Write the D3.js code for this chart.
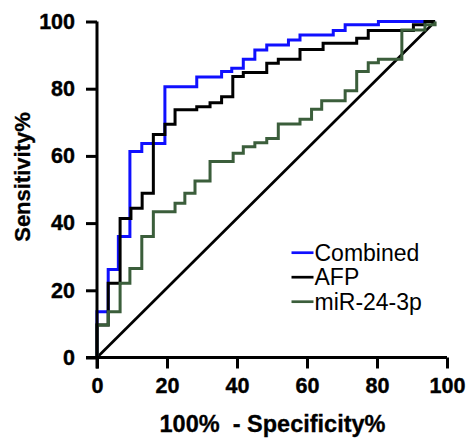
<!DOCTYPE html>
<html>
<head>
<meta charset="utf-8">
<script src="https://cdn.jsdelivr.net/npm/d3@7"></script>
<style>
  body { margin: 0; background: #fff; }
  svg text { font-family: "Liberation Sans", Arial, sans-serif; }
</style>
</head>
<body>
<div id="chart"></div>
<script>
// ROC step points: [100% - specificity, sensitivity]
const combined = [[0,0],[0,13.6],[3.2,26.2],[6.1,36],[9.4,61.3],[12.8,63.7],[19.4,80.6],[28.5,83.5],
  [35.6,85.1],[38.5,86.1],[41.8,88.8],[45.1,91.5],[48.5,93],[54.7,94.5],[58,96],[67.5,97.3],
  [70.9,99],[80.4,100],[96.6,100]];
const afp = [[0,0],[0,9.7],[3.2,22.1],[6.6,41.4],[9.7,44.4],[12.9,48.9],[16.1,66.4],[19.4,69.4],
  [22.3,73.7],[28.5,74.6],[32.3,75.8],[35.6,77.6],[38.8,83.6],[41.8,84.8],[48.5,87.6],[51.8,88.8],
  [58,91.7],[64.6,93.5],[74.2,95],[77.5,97.3],[90.4,99],[93.7,100],[96.6,100]];
const mir = [[0,0],[0,9.7],[3.2,13.6],[6.6,22.1],[9.4,26.5],[12.8,36],[16.1,43.4],[22.3,45.9],
  [25.1,48.9],[28,52.5],[32.3,58.3],[38.9,60.8],[41.8,62.7],[45.1,63.9],[48.5,65.2],[51.8,69.5],
  [58,70.9],[61.3,73.9],[64.2,76.4],[70.9,79.4],[74.2,85.1],[77.5,87.7],[80.4,88.8],[87.1,97.5],
  [93.7,99],[96.6,100]];
const reference = [[0,0],[96.6,100]];

const seriesNames = ["Combined", "AFP", "miR-24-3p"];
const seriesColors = ["#1010ff", "#000000", "#3b5e3b"];
const xTicks = [0, 20, 40, 60, 80, 100];
const yTicks = [0, 20, 40, 60, 80, 100];

const width = 468, height = 438;
const svg = d3.select("#chart").append("svg")
  .attr("width", width)
  .attr("height", height);

const x = d3.scaleLinear().domain([0, 100]).range([97, 447]);
const y = d3.scaleLinear().domain([0, 100]).range([357.5, 21.5]);

const line = d3.line()
  .x(d => x(d[0]))
  .y(d => y(d[1]))
  .curve(d3.curveStepAfter);

// diagonal
svg.append("path")
  .datum(reference)
  .attr("d", d3.line().x(d => x(d[0])).y(d => y(d[1])))
  .attr("fill", "none")
  .attr("stroke", "#000")
  .attr("stroke-width", 2.7);

[combined, afp, mir].forEach(function(s, i) {
  svg.append("path")
    .datum(s)
    .attr("d", line)
    .attr("fill", "none")
    .attr("stroke", seriesColors[i])
    .attr("stroke-width", 3);
});

// axes
const xAxis = svg.append("g")
  .attr("transform", "translate(0," + y(0) + ")")
  .call(d3.axisBottom(x).tickValues(xTicks).tickSize(11).tickSizeOuter(0).tickPadding(9));
const yAxis = svg.append("g")
  .attr("transform", "translate(" + x(0) + ",0)")
  .call(d3.axisLeft(y).tickValues(yTicks).tickSize(11).tickSizeOuter(0).tickPadding(11));

[xAxis, yAxis].forEach(function(g) {
  g.selectAll("path, line").attr("stroke", "#000").attr("stroke-width", 3);
  g.selectAll("text")
    .attr("fill", "#000")
    .attr("stroke", "#000")
    .attr("stroke-width", 0.4)
    .style("font-size", "21.5px")
    .style("font-weight", "bold");
});
xAxis.select(".domain").attr("d", "M" + (x(0) - 11) + ",0H" + x(100));
yAxis.select(".domain").attr("d", "M0," + (y(0) + 11) + "V" + y(100));

// titles
svg.append("text")
  .attr("x", 272.5)
  .attr("y", 431.5)
  .attr("text-anchor", "middle")
  .attr("stroke", "#000")
  .attr("stroke-width", 0.3)
  .style("white-space", "pre")
  .style("font-size", "23.5px")
  .style("font-weight", "bold")
  .text("100%  - Specificity%");

svg.append("text")
  .attr("transform", "translate(29.5,177) rotate(-90)")
  .attr("text-anchor", "middle")
  .attr("stroke", "#000")
  .attr("stroke-width", 0.3)
  .style("font-size", "22px")
  .style("font-weight", "bold")
  .text("Sensitivity%");

// legend
const legend = svg.append("g");
seriesNames.forEach(function(name, i) {
  const ly = 252.7 + i * 24.5;
  legend.append("line")
    .attr("x1", 291.5).attr("x2", 313.5)
    .attr("y1", ly).attr("y2", ly)
    .attr("stroke", seriesColors[i])
    .attr("stroke-width", 2.7);
  legend.append("text")
    .attr("x", 314.5)
    .attr("y", ly + 7.8)
    .style("font-size", "23px")
    .text(name);
});
</script>
</body>
</html>
